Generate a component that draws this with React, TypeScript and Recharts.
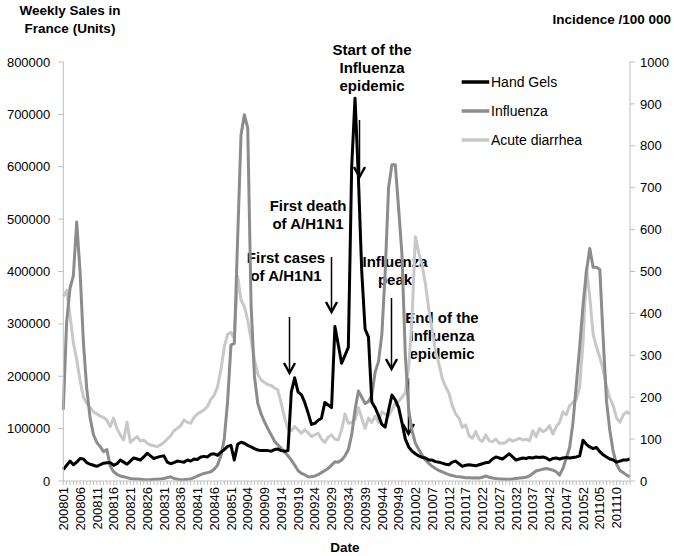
import React from 'react';
import { LineChart, Line, XAxis, YAxis, Legend, Customized } from 'recharts';

const WEEKS: string[] = [
  '200801','200802','200803','200804','200805','200806','200807','200808','200809','200810','200811','200812','200813',
  '200814','200815','200816','200817','200818','200819','200820','200821','200822','200823','200824','200825','200826',
  '200827','200828','200829','200830','200831','200832','200833','200834','200835','200836','200837','200838','200839',
  '200840','200841','200842','200843','200844','200845','200846','200847','200848','200849','200850','200851','200852',
  '200901','200902','200903','200904','200905','200906','200907','200908','200909','200910','200911','200912','200913',
  '200914','200915','200916','200917','200918','200919','200920','200921','200922','200923','200924','200925','200926',
  '200927','200928','200929','200930','200931','200932','200933','200934','200935','200936','200937','200938','200939',
  '200940','200941','200942','200943','200944','200945','200946','200947','200948','200949','200950','200951','200952',
  '201001','201002','201003','201004','201005','201006','201007','201008','201009','201010','201011','201012','201013',
  '201014','201015','201016','201017','201018','201019','201020','201021','201022','201023','201024','201025','201026',
  '201027','201028','201029','201030','201031','201032','201033','201034','201035','201036','201037','201038','201039',
  '201040','201041','201042','201043','201044','201045','201046','201047','201048','201049','201050','201051','201052',
  '201101','201102','201103','201104','201105','201106','201107','201108','201109','201110','201111','201112','201113','201114',
];

// Weekly sales of hand gels (units, left axis)
const HAND_GELS: number[] = [
  22000, 30000, 38000, 31000, 36000, 43000, 42000, 35000, 32000, 30000,
  28000, 31000, 34000, 35000, 35000, 30000, 33000, 40000, 36000, 32000,
  38000, 44000, 42000, 40000, 46000, 53000, 48000, 43000, 45000, 47000,
  48000, 36000, 33000, 35000, 38000, 37000, 36000, 40000, 38000, 42000,
  41000, 46000, 47000, 46000, 51000, 52000, 49000, 55000, 60000, 66000,
  68000, 40000, 70000, 74000, 72000, 68000, 65000, 62000, 59000, 58000,
  58000, 58000, 57000, 60000, 61000, 58000, 57000, 58000, 170000, 197000,
  170000, 165000, 150000, 130000, 108000, 110000, 116000, 120000, 150000, 145000,
  140000, 295000, 260000, 225000, 240000, 255000, 600000, 731000, 580000, 400000,
  290000, 275000, 151000, 140000, 125000, 108000, 103000, 135000, 164000, 155000,
  140000, 111000, 80000, 65000, 57000, 52000, 48000, 45000, 44000, 40000,
  40000, 37000, 36000, 34000, 32000, 31000, 36000, 38000, 33000, 28000,
  30000, 31000, 30000, 29000, 31000, 33000, 35000, 36000, 42000, 46000,
  44000, 42000, 47000, 52000, 46000, 40000, 42000, 44000, 43000, 45000,
  44000, 46000, 45000, 46000, 44000, 40000, 43000, 44000, 42000, 44000,
  45000, 44000, 45000, 46000, 48000, 78000, 70000, 65000, 62000, 64000,
  56000, 50000, 46000, 42000, 40000, 36000, 38000, 40000, 40000, 42000,
];

// Influenza incidence per 100 000 (right axis)
const INFLUENZA: number[] = [
  170, 380, 460, 490, 618, 500, 330, 220, 150, 110,
  92, 82, 70, 75, 35, 22, 16, 12, 10, 8,
  6, 5, 5, 4, 3, 3, 3, 4, 4, 5,
  6, 8, 10, 6, 4, 3, 3, 4, 5, 8,
  12, 15, 18, 20, 22, 28, 38, 60, 100, 190,
  325, 328, 580, 826, 874, 843, 420, 250, 185, 160,
  141, 125, 110, 95, 86, 78, 69, 60, 50, 38,
  25, 18, 15, 10, 10, 12, 15, 20, 25, 30,
  38, 46, 45, 50, 60, 75, 110, 170, 215, 200,
  185, 190, 205, 260, 285, 350, 500, 700, 755, 755,
  650, 540, 300, 170, 120, 90, 75, 62, 50, 42,
  35, 30, 25, 22, 18, 15, 13, 11, 10, 9,
  8, 8, 7, 8, 7, 9, 12, 9, 7, 6,
  5, 5, 4, 4, 5, 6, 7, 8, 9, 12,
  18, 24, 26, 28, 30, 28, 26, 22, 14, 30,
  55, 80, 140, 230, 320, 420, 500, 555, 510, 510,
  505, 340, 190, 120, 70, 40, 25, 20, 14, 10,
];

// Acute diarrhea incidence per 100 000 (right axis)
const DIARRHEA: number[] = [
  440, 455, 395, 330, 290, 240, 200, 185, 175, 165,
  160, 155, 152, 145, 130, 150, 125, 110, 98, 140,
  92, 100, 106, 95, 98, 90, 86, 84, 82, 86,
  92, 100, 108, 120, 126, 132, 146, 140, 138, 152,
  160, 165, 170, 178, 195, 205, 225, 265, 320, 350,
  355, 340, 488, 432, 416, 384, 337, 290, 255, 241,
  235, 230, 228, 222, 217, 185, 150, 125, 120, 130,
  122, 114, 122, 115, 106, 110, 114, 100, 92, 105,
  110, 100, 98, 122, 160, 138, 140, 146, 175, 150,
  125, 150, 140, 155, 140, 165, 160, 155, 170, 185,
  190, 200, 210, 270, 390, 583, 545, 515, 470, 410,
  360, 310, 280, 245, 225, 210, 180, 160, 150, 128,
  134, 108, 102, 118, 100, 94, 110, 96, 94, 100,
  90, 90, 92, 100, 95, 98, 102, 98, 100, 96,
  120, 106, 125, 118, 122, 132, 112, 130, 140, 165,
  158, 180, 188, 195, 225, 330, 508, 440, 350, 320,
  295, 265, 225, 197, 180, 150, 140, 158, 165, 160,
];

const LEFT_TICKS = [0, 100000, 200000, 300000, 400000, 500000, 600000, 700000, 800000];
const RIGHT_TICKS = [0, 100, 200, 300, 400, 500, 600, 700, 800, 900, 1000];

const SERIES_NAMES = ['Hand Gels', 'Influenza', 'Acute diarrhea'];
const SERIES_COLORS = ['#000000', '#8c8c8c', '#c8c8c8'];

const FONT = '"Liberation Sans", Arial, Helvetica, sans-serif';
const AXIS_GRAY = '#bfbfbf';

const data = WEEKS.map((week, i) => ({
  week,
  handGels: HAND_GELS[i],
  influenza: INFLUENZA[i],
  diarrhea: DIARRHEA[i],
}));

const ANNOTATIONS = [
  { lines: ['Start of the', 'Influenza', 'epidemic'], x: 372, y: 55 },
  { lines: ['First death', 'of A/H1N1'], x: 308, y: 211 },
  { lines: ['First cases', 'of A/H1N1'], x: 286, y: 263 },
  { lines: ['Influenza', 'peak'], x: 395, y: 267 },
  { lines: ['End of the', 'Influenza', 'epidemic'], x: 442, y: 323 },
];

const ARROWS = [
  { x: 289.5, y1: 317, y2: 373 },
  { x: 331.5, y1: 257, y2: 312 },
  { x: 359.5, y1: 120, y2: 177 },
  { x: 391.5, y1: 298, y2: 369 },
  { x: 408.5, y1: 378, y2: 434 },
];

const XTick = (props: any) => {
  const { x, y, payload } = props;
  const idx = WEEKS.indexOf(payload.value);
  if (idx % 5 !== 0) return <g />;
  return (
    <text
      x={x}
      y={y}
      transform={`rotate(-90 ${x} ${y})`}
      textAnchor="end"
      dy="0.36em"
      fontSize={13}
      fill="#000"
      fontFamily={FONT}
    >
      {payload.value}
    </text>
  );
};

const Annotations = () => (
  <g fontFamily={FONT}>
    <text x={70} y={14.5} textAnchor="middle" fontSize={13.5} fontWeight="bold" fill="#000">Weekly Sales in</text>
    <text x={70} y={32.5} textAnchor="middle" fontSize={13.5} fontWeight="bold" fill="#000">France (Units)</text>
    <text x={671} y={23.5} textAnchor="end" fontSize={13.5} fontWeight="bold" fill="#000">Incidence /100 000</text>
    <text x={345} y={551.5} textAnchor="middle" fontSize={13.5} fontWeight="bold" fill="#000">Date</text>
    {ANNOTATIONS.map((a, k) => (
      <text key={k} textAnchor="middle" fontSize={15} fontWeight="bold" fill="#000">
        {a.lines.map((l, j) => (
          <tspan key={j} x={a.x} y={a.y + j * 18}>{l}</tspan>
        ))}
      </text>
    ))}
    {ARROWS.map((a, k) => (
      <g key={k} stroke="#000" fill="none">
        <line x1={a.x} y1={a.y1} x2={a.x} y2={a.y2} strokeWidth={1.5} />
        <polyline points={`${a.x - 5.5},${a.y2 - 10} ${a.x},${a.y2} ${a.x + 5.5},${a.y2 - 10}`} strokeWidth={2.5} />
      </g>
    ))}
  </g>
);

const LegendContent = () => (
  <svg width={200} height={90} style={{ overflow: 'visible', display: 'block' }}>
    {SERIES_NAMES.map((name, k) => (
      <g key={name}>
        <line x1={6.7} y1={14 + k * 29} x2={34.3} y2={14 + k * 29} stroke={SERIES_COLORS[k]} strokeWidth={3.5} />
        <text x={36} y={14 + k * 29} dy="0.36em" fontSize={14} fill="#000" fontFamily={FONT}>{name}</text>
      </g>
    ))}
  </svg>
);

export default function App() {
  return (
    <div style={{ position: 'absolute', left: 0, top: 0, width: 674, height: 556, background: '#fff', fontFamily: FONT }}>
      <LineChart
        width={674}
        height={556}
        data={data}
        margin={{ top: 62, right: 4, bottom: 15, left: 8.3 }}
        style={{ fontFamily: FONT }}
      >
        <XAxis
          dataKey="week"
          interval={0}
          tickSize={4}
          height={60}
          tick={XTick}
          axisLine={{ stroke: AXIS_GRAY }}
          tickLine={{ stroke: AXIS_GRAY }}
        />
        <YAxis
          yAxisId="left"
          domain={[0, 800000]}
          ticks={LEFT_TICKS}
          interval={0}
          width={55}
          tickSize={5}
          tickMargin={8}
          axisLine={{ stroke: AXIS_GRAY }}
          tickLine={{ stroke: AXIS_GRAY }}
          tick={{ fontSize: 13, fill: '#000', fontFamily: FONT }}
        />
        <YAxis
          yAxisId="right"
          orientation="right"
          domain={[0, 1000]}
          ticks={RIGHT_TICKS}
          interval={0}
          width={40}
          tickSize={5}
          tickMargin={5}
          axisLine={{ stroke: AXIS_GRAY }}
          tickLine={{ stroke: AXIS_GRAY }}
          tick={{ fontSize: 13, fill: '#000', fontFamily: FONT }}
        />
        <Line
          yAxisId="right"
          dataKey="diarrhea"
          name={SERIES_NAMES[2]}
          stroke={SERIES_COLORS[2]}
          strokeWidth={3}
          strokeLinejoin="round"
          dot={false}
          isAnimationActive={false}
        />
        <Line
          yAxisId="right"
          dataKey="influenza"
          name={SERIES_NAMES[1]}
          stroke={SERIES_COLORS[1]}
          strokeWidth={3}
          strokeLinejoin="round"
          dot={false}
          isAnimationActive={false}
        />
        <Line
          yAxisId="left"
          dataKey="handGels"
          name={SERIES_NAMES[0]}
          stroke={SERIES_COLORS[0]}
          strokeWidth={3}
          strokeLinejoin="round"
          dot={false}
          isAnimationActive={false}
        />
        <Legend
          layout="vertical"
          align="center"
          verticalAlign="middle"
          wrapperStyle={{ left: 455, top: 68, width: 200, height: 90 }}
          content={LegendContent}
        />
        <Customized component={Annotations} />
      </LineChart>
    </div>
  );
}
